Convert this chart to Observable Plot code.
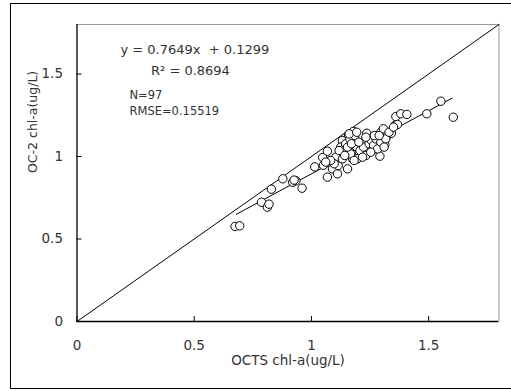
<!DOCTYPE html>
<html>
<head>
<meta charset="utf-8">
<script src="https://cdn.jsdelivr.net/npm/d3@7"></script>
<script src="https://cdn.jsdelivr.net/npm/@observablehq/plot@0.6"></script>
<style>
  html, body { margin: 0; padding: 0; background: #fff; overflow: hidden; }
  #wrap { position: relative; width: 511px; height: 391px; }
  #frame { position: absolute; left: 10px; top: 3px; width: 520px; height: 386px; border: 1px solid #000; box-sizing: border-box; pointer-events: none; }
  #chart { position: absolute; left: 0; top: 0; }
</style>
</head>
<body>
<div id="wrap"><div id="chart"></div><div id="frame"></div></div>
<script>
// OCTS chl-a (x) vs OC-2 chl-a (y)
const octs = [0.674,0.694,0.787,0.812,0.819,0.829,0.878,0.920,0.934,0.926,0.960,1.014,1.048,1.051,1.068,1.068,1.075,1.090,1.111,1.114,1.122,1.125,1.132,1.137,1.154,1.158,1.161,1.175,1.179,1.182,1.189,1.193,1.203,1.211,1.218,1.228,1.236,1.239,1.250,1.260,1.270,1.279,1.289,1.292,1.296,1.303,1.307,1.310,1.313,1.324,1.341,1.356,1.360,1.367,1.381,1.407,1.492,1.552,1.605,1.125,1.139,1.146,1.164,1.167,1.185,1.196,1.207,1.222,1.232,1.246,1.256,1.265,1.275,1.282,1.296,1.317,1.331,1.104,1.097,1.082,1.061,1.118,1.154,1.171,1.202,1.218,1.268,1.289,1.310,1.182,1.132,1.253,1.350,1.161,1.232,1.193,1.142];
const oc2 = [0.576,0.580,0.723,0.693,0.711,0.802,0.865,0.844,0.853,0.857,0.808,0.937,0.994,0.947,1.032,0.875,0.966,0.925,0.895,0.945,0.992,1.046,1.097,1.016,0.925,1.131,1.046,0.986,1.152,1.097,1.016,1.057,1.006,1.077,1.026,1.097,1.141,1.057,1.107,1.040,1.077,1.121,1.097,1.002,1.147,1.127,1.168,1.097,1.073,1.127,1.141,1.188,1.242,1.194,1.259,1.255,1.259,1.335,1.238,1.057,1.046,1.077,1.107,1.016,1.127,0.986,1.036,1.057,1.006,1.077,1.097,1.067,1.107,1.046,1.087,1.107,1.147,0.996,0.956,0.976,0.966,1.036,1.057,1.077,1.087,0.996,1.127,1.127,1.057,0.976,0.986,1.026,1.178,1.137,1.117,1.147,1.006];
const slope = 0.7649, intercept = 0.1299;
const fitX = [0.68, 1.60];
const oneToOne = [0, 1.8];
const xTicks = [0, 0.5, 1, 1.5];
const yTicks = [0, 0.5, 1, 1.5];
const domain = [0, 1.8];
const eqText = "y = 0.7649x  + 0.1299";
const r2Text = "R\u00B2 = 0.8694";
const nText = "N=97";
const rmseText = "RMSE=0.15519";
const xLabel = "OCTS chl-a(ug/L)";
const yLabel = "OC-2 chl-a(ug/L)";

const points = octs.map((x, i) => ({x, y: oc2[i]}));
const fit = fitX.map(x => ({x, y: slope * x + intercept}));
const diag = oneToOne.map(v => ({x: v, y: v}));
const font = "'DejaVu Sans', Verdana, sans-serif";
const txt = "#333";

const chart = Plot.plot({
  width: 511,
  height: 391,
  marginLeft: 76.5,
  marginRight: 12.5,
  marginTop: 24,
  marginBottom: 70,
  style: {fontFamily: font, background: "transparent", overflow: "visible"},
  x: {domain, label: null},
  y: {domain, label: null},
  marks: [
    Plot.ruleX([domain[1]], {stroke: "#999"}),
    Plot.ruleY([domain[1]], {stroke: "#999"}),
    Plot.line(diag, {x: "x", y: "y", stroke: "#000", strokeWidth: 1}),
    Plot.line(fit, {x: "x", y: "y", stroke: "#000", strokeWidth: 1}),
    Plot.dot(points, {x: "x", y: "y", r: 4.2, fill: "#fff", stroke: "#000", strokeWidth: 1}),
    Plot.ruleX([0], {stroke: "#000", strokeWidth: 1.3}),
    Plot.ruleY([0], {stroke: "#000", strokeWidth: 1.3}),
    // inward ticks
    Plot.axisX(xTicks, {tickSize: 5, dy: -5, tickFormat: () => "", stroke: "#000"}),
    Plot.axisY(yTicks, {tickSize: 5, dx: 5, tickFormat: () => "", stroke: "#000"}),
    // tick labels
    Plot.axisX(xTicks, {tickSize: 0, tickPadding: 19, tickFormat: d => String(d), fontSize: 13.5, fill: txt}),
    Plot.axisY(yTicks, {tickSize: 0, tickPadding: 14, tickFormat: d => String(d), fontSize: 13.5, fill: txt}),
    // axis titles
    Plot.text([xLabel], {frameAnchor: "bottom", dy: 39, text: d => d, fontSize: 13.5, fill: txt, lineAnchor: "middle"}),
    Plot.text([yLabel], {frameAnchor: "left", dx: -44, rotate: -90, text: d => d, fontSize: 12.5, fill: txt, lineAnchor: "middle"}),
    // annotations
    Plot.text([eqText], {frameAnchor: "top-left", dx: 43.5, dy: 25, text: d => d, fontSize: 13, fill: txt, textAnchor: "start", lineAnchor: "middle"}),
    Plot.text([r2Text], {frameAnchor: "top-left", dx: 74, dy: 46, text: d => d, fontSize: 13, fill: txt, textAnchor: "start", lineAnchor: "middle"}),
    Plot.text([nText], {frameAnchor: "top-left", dx: 52.5, dy: 71, text: d => d, fontSize: 11.5, fill: txt, textAnchor: "start", lineAnchor: "middle"}),
    Plot.text([rmseText], {frameAnchor: "top-left", dx: 52.5, dy: 87, text: d => d, fontSize: 11.5, fill: txt, textAnchor: "start", lineAnchor: "middle"})
  ]
});
document.getElementById("chart").appendChild(chart);
</script>
</body>
</html>
